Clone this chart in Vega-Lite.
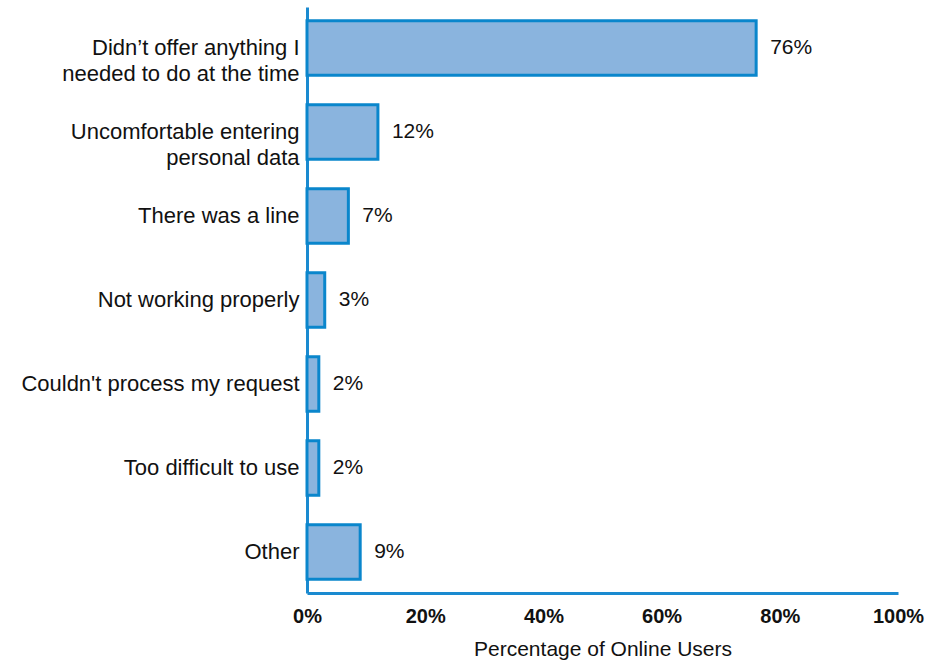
{
  "$schema": "https://vega.github.io/schema/vega-lite/v6.json",
  "width": 591,
  "height": 586,
  "autosize": "none",
  "padding": {"left": 307, "top": 7, "right": 30, "bottom": 68},
  "background": "white",
  "config": {"view": {"stroke": null}, "font": "Liberation Sans"},
  "data": {
    "values": [
      {"reason": "Didn’t offer anything I|needed to do at the time", "pct": 76, "label": "76%"},
      {"reason": "Uncomfortable entering|personal data", "pct": 12, "label": "12%"},
      {"reason": "There was a line", "pct": 7, "label": "7%"},
      {"reason": "Not working properly", "pct": 3, "label": "3%"},
      {"reason": "Couldn't process my request", "pct": 2, "label": "2%"},
      {"reason": "Too difficult to use", "pct": 2, "label": "2%"},
      {"reason": "Other", "pct": 9, "label": "9%"}
    ]
  },
  "encoding": {
    "y": {
      "field": "reason",
      "type": "nominal",
      "sort": null,
      "scale": {"paddingInner": 0.35, "paddingOuter": 0.163},
      "axis": {
        "title": null,
        "ticks": false,
        "domainColor": "#1a8ad0",
        "domainWidth": 3,
        "labelFontSize": 22,
        "labelColor": "#111111",
        "labelPadding": 8,
        "labelLimit": 400,
        "labelLineHeight": 26,
        "labelExpr": "split(datum.value, '|')"
      }
    }
  },
  "layer": [
    {
      "mark": {"type": "bar", "fill": "#8ab4de", "stroke": "#0a86cc", "strokeWidth": 3},
      "encoding": {
        "x": {
          "field": "pct",
          "type": "quantitative",
          "scale": {"domain": [0, 100], "nice": false},
          "axis": {
            "title": "Percentage of Online Users",
            "titleFontSize": 21,
            "titleFontWeight": "normal",
            "titleColor": "#111111",
            "titlePadding": 12,
            "values": [0, 20, 40, 60, 80, 100],
            "labelExpr": "datum.value + '%'",
            "labelFontSize": 20,
            "labelFontWeight": "bold",
            "labelColor": "#111111",
            "labelPadding": 13,
            "labelFlush": false,
            "ticks": false,
            "grid": false,
            "domainColor": "#1a8ad0",
            "domainWidth": 3
          }
        }
      }
    },
    {
      "mark": {"type": "text", "align": "left", "baseline": "middle", "dx": 14, "fontSize": 21, "color": "#111111"},
      "encoding": {
        "x": {"field": "pct", "type": "quantitative"},
        "text": {"field": "label"}
      }
    }
  ]
}
